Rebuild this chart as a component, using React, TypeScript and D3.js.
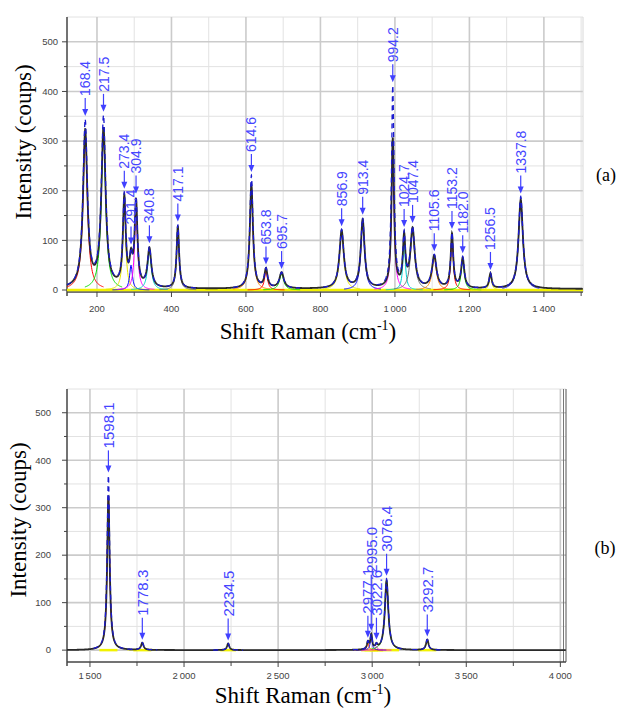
import React from 'react';
import * as d3 from 'd3';

// Panel (a): Raman peaks, 120 - 1505 cm-1
const peaksA = [168.4, 217.5, 273.4, 291.4, 304.9, 340.8, 417.1, 614.6, 653.8, 695.7, 856.9, 913.4, 994.2, 1024.7, 1047.4, 1105.6, 1153.2, 1182.0, 1256.5, 1337.8];
const fitA = [335, 342, 182, 50, 172, 80, 128, 228, 38, 32, 118, 140, 405, 100, 120, 66, 110, 62, 30, 186];
const obsA = [315, 318, 178, 50, 170, 78, 125, 210, 38, 32, 116, 138, 300, 98, 118, 65, 108, 60, 30, 180];
const hwA = [7, 7, 4.5, 4.5, 4.5, 6, 4, 5, 5, 7, 7, 6, 4, 4, 7, 7, 4, 5, 4, 7];

// Panel (b): Raman peaks, 1378 - 4030 cm-1
const peaksB = [1598.1, 1778.3, 2234.5, 2977.1, 2995.0, 3022.6, 3076.4, 3292.7];
const fitB = [368, 15, 14, 15, 30, 8, 150, 22];
const obsB = [323, 15, 14, 15, 30, 8, 146, 22];
const hwB = [8, 8, 7, 6, 6, 6, 11, 8];

const yTicks = [0, 100, 200, 300, 400, 500];
const yMinorTicks = [50, 150, 250, 350, 450, 550];
const xTicksA = [200, 400, 600, 800, 1000, 1200, 1400];
const xMinorA = [300, 500, 700, 900, 1100, 1300, 1500];
const xTicksB = [1500, 2000, 2500, 3000, 3500, 4000];
const xMinorB = [1750, 2250, 2750, 3250, 3750];

const colorsA = ['#ff0000', '#00dd00', '#e6e600', '#0000ff', '#ff00ff', '#00d0d0', '#707070', '#ff8000'];
const colorsB = ['#ff0000', '#e6e600', '#e6e600', '#ff4000', '#0000ff', '#ff00ff', '#00dd00', '#e6e600'];

const fmt = d3.formatLocale({ decimal: '.', thousands: '\u2009', grouping: [3], currency: ['', ''] }).format(',');

const lorentz = (v: number, c: number, h: number, w: number) => (h * w * w) / ((v - c) * (v - c) + w * w);

type PanelProps = {
  left: number; right: number; top: number; bottom: number;
  xDomain: [number, number]; yDomain: [number, number];
  peaks: number[]; fit: number[]; obs: number[]; hw: number[];
  xMajor: number[]; xMinor: number[];
  colors: string[]; lift: number[];
  labelSize: number; arrowLen: number; base: number; step: number; span: number;
  yellowFull: boolean; yLabelX: number; xLabelY: number; rightDouble: boolean;
};

function Panel(p: PanelProps) {
  const x = d3.scaleLinear().domain(p.xDomain).range([p.left, p.right]);
  const y = d3.scaleLinear().domain(p.yDomain).range([p.bottom, p.top]);
  const xs = Array.from(new Set([...d3.range(p.xDomain[0], p.xDomain[1], p.step), ...p.peaks])).sort((a, b) => a - b);
  const model = (hs: number[]) => (v: number) => p.base + d3.sum(p.peaks, (c, i) => lorentz(v, c, hs[i], p.hw[i]));
  const obsF = model(p.obs);
  const fitF = model(p.fit);
  const near = (v: number) => p.peaks.some(c => Math.abs(v - c) < p.span);

  const obsPath = d3.line<number>().x(v => x(v)).y(v => y(obsF(v)))(xs) || '';
  const fitPath = d3.line<number>().defined(near).x(v => x(v)).y(v => y(fitF(v)))(xs) || '';

  const comps = p.peaks.map((c, i) => {
    const pts = xs.filter(v => Math.abs(v - c) <= p.span && v >= p.xDomain[0]);
    return d3.line<number>().x(v => x(v)).y(v => y(lorentz(v, c, p.obs[i], p.hw[i])))(pts) || '';
  });

  const yellowSegs = p.yellowFull
    ? [[p.xDomain[0], p.xDomain[1]]]
    : p.peaks.map((c, i) => [c - p.hw[i] * 6, c + p.hw[i] * 6]);

  return (
    <g>
      {/* grid */}
      {yMinorTicks.map(t => (
        <line key={'ym' + t} x1={p.left} x2={p.right} y1={y(t)} y2={y(t)} stroke="#e2e2e2" strokeWidth={1} />
      ))}
      {p.xMinor.filter(t => x(t) <= p.right).map(t => (
        <line key={'xm' + t} x1={x(t)} x2={x(t)} y1={p.top} y2={p.bottom} stroke="#e2e2e2" strokeWidth={1} />
      ))}
      {yTicks.map(t => (
        <line key={'yg' + t} x1={p.left} x2={p.right} y1={y(t)} y2={y(t)} stroke="#cbcbcb" strokeWidth={1.6} />
      ))}
      {p.xMajor.map(t => (
        <line key={'xg' + t} x1={x(t)} x2={x(t)} y1={p.top} y2={p.bottom} stroke="#cbcbcb" strokeWidth={1.6} />
      ))}

      {/* frame */}
      <line x1={p.right} x2={p.right} y1={p.top} y2={p.bottom} stroke={p.rightDouble ? '#555' : '#d8d8d8'} strokeWidth={1} />
      {p.rightDouble && <line x1={p.right - 2.5} x2={p.right - 2.5} y1={p.top} y2={p.bottom} stroke="#777" strokeWidth={1} />}
      <line x1={p.left} x2={p.left} y1={p.top} y2={p.bottom + 4} stroke="#444" strokeWidth={1.5} />
      <line x1={p.left} x2={p.right} y1={p.bottom} y2={p.bottom} stroke="#444" strokeWidth={1.5} />

      {/* ticks */}
      {yTicks.map(t => (
        <g key={'yt' + t}>
          <line x1={p.left - 5} x2={p.left} y1={y(t)} y2={y(t)} stroke="#444" />
          <text x={p.yLabelX} y={y(t)} dy="0.35em" textAnchor="end" fontFamily="Liberation Sans, Arial, sans-serif" fontSize={9.5} fill="#444">{fmt(t)}</text>
        </g>
      ))}
      {yMinorTicks.filter(t => t < p.yDomain[1]).map(t => (
        <line key={'ymt' + t} x1={p.left - 3} x2={p.left} y1={y(t)} y2={y(t)} stroke="#444" />
      ))}
      {p.xMajor.map(t => (
        <g key={'xt' + t}>
          <line x1={x(t)} x2={x(t)} y1={p.bottom} y2={p.bottom + 5} stroke="#444" />
          <text x={x(t)} y={p.xLabelY} textAnchor="middle" fontFamily="Liberation Sans, Arial, sans-serif" fontSize={9.5} fill="#444">{fmt(t)}</text>
        </g>
      ))}
      {p.xMinor.filter(t => x(t) <= p.right + 1).map(t => (
        <line key={'xmt' + t} x1={x(t)} x2={x(t)} y1={p.bottom} y2={p.bottom + 4} stroke="#444" />
      ))}

      {/* baseline + fitted components */}
      {yellowSegs.map((s, i) => (
        <line key={'yl' + i} x1={x(Math.max(s[0], p.xDomain[0]))} x2={x(Math.min(s[1], p.xDomain[1]))} y1={y(0)} y2={y(0)} stroke="#f2f200" strokeWidth={2.5} />
      ))}
      {comps.map((d, i) => (
        <path key={'c' + i} d={d} fill="none" stroke={p.colors[i % p.colors.length]} strokeWidth={1} />
      ))}

      {/* measured spectrum and fit envelope */}
      <path d={obsPath} fill="none" stroke="#2a2a2a" strokeWidth={1.8} />
      <path d={fitPath} fill="none" stroke="#1a1ad0" strokeWidth={1.3} strokeDasharray="5,4" />

      {/* peak labels */}
      {p.peaks.map((c, i) => {
        const cx = x(c);
        const tip = y(fitF(c)) - 3;
        const start = tip - p.arrowLen - p.lift[i];
        return (
          <g key={'pl' + i}>
            <line x1={cx} x2={cx} y1={start} y2={tip - 5} stroke="#4040ff" strokeWidth={1.2} />
            <path d={`M${cx - 3},${tip - 7}L${cx + 3},${tip - 7}L${cx},${tip}Z`} fill="#4040ff" />
            <text transform={`translate(${cx},${start - 2}) rotate(-90)`} dy="0.36em" textAnchor="start"
              fontFamily="Liberation Sans, Arial, sans-serif" fontSize={p.labelSize} fill="#4545ff">
              {c.toFixed(1)}
            </text>
          </g>
        );
      })}
    </g>
  );
}

const serif = 'Liberation Serif, Times New Roman, serif';

export default function App() {
  return (
    <svg width={619} height={711} style={{ position: 'absolute', left: 0, top: 0, background: '#fff' }}>
      <rect width={619} height={711} fill="#fff" />
      <Panel left={67} right={583} top={17} bottom={292}
        xDomain={[119.5, 1505]} yDomain={[-4, 550]}
        peaks={peaksA} fit={fitA} obs={obsA} hw={hwA}
        xMajor={xTicksA} xMinor={xMinorA} colors={colorsA}
        lift={peaksA.map(() => 0)} labelSize={14} arrowLen={18} base={2} step={1} span={50}
        yellowFull={true} yLabelX={58} xLabelY={312} rightDouble={false} />
      <Panel left={67} right={566} top={389} bottom={662}
        xDomain={[1378, 4030]} yDomain={[-25, 550]}
        peaks={peaksB} fit={fitB} obs={obsB} hw={hwB}
        xMajor={xTicksB} xMinor={xMinorB} colors={colorsB}
        lift={[0, 0, 0, 0, 34, 0, 0, 0]} labelSize={15} arrowLen={22} base={0} step={1} span={80}
        yellowFull={false} yLabelX={51} xLabelY={679} rightDouble={true} />

      <text transform="translate(23,142) rotate(-90)" dy="0.35em" textAnchor="middle" fontFamily={serif} fontSize={23} fill="#000">Intensity (coups)</text>
      <text transform="translate(18,520) rotate(-90)" dy="0.35em" textAnchor="middle" fontFamily={serif} fontSize={23} fill="#000">Intensity (coups)</text>

      <text x={308} y={339} textAnchor="middle" fontFamily={serif} fontSize={23} fill="#000">
        Shift Raman (cm<tspan fontSize={14} dy={-9}>-1</tspan><tspan dy={9}>)</tspan>
      </text>
      <text x={303} y={703} textAnchor="middle" fontFamily={serif} fontSize={23} fill="#000">
        Shift Raman (cm<tspan fontSize={14} dy={-9}>-1</tspan><tspan dy={9}>)</tspan>
      </text>

      <text x={606} y={175} dy="0.35em" textAnchor="middle" fontFamily={serif} fontSize={18} fill="#000">(a)</text>
      <text x={605} y={548} dy="0.35em" textAnchor="middle" fontFamily={serif} fontSize={18} fill="#000">(b)</text>
    </svg>
  );
}
